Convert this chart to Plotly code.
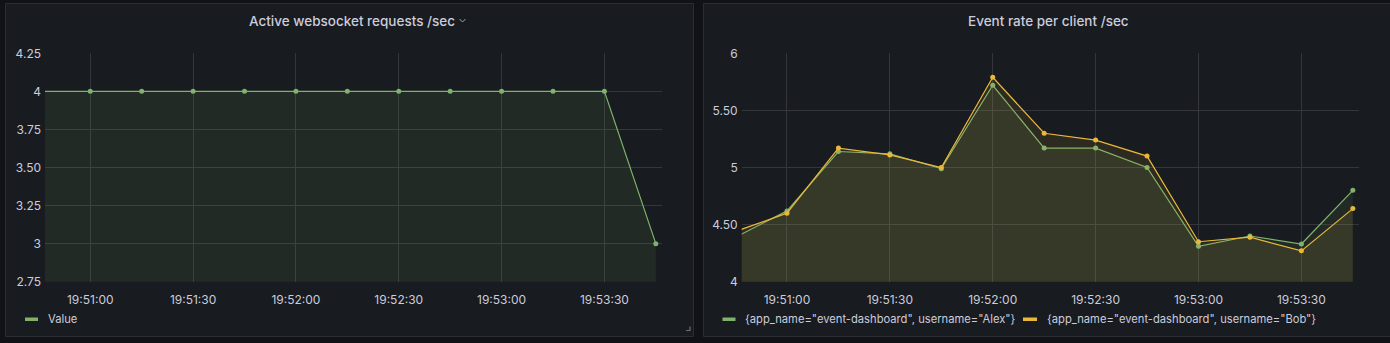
import plotly.graph_objects as go

W, H = 1390, 343

# ---- data -------------------------------------------------------------
DAY = "2022-06-01 "
times = ["19:50:45", "19:51:00", "19:51:15", "19:51:30", "19:51:45", "19:52:00",
         "19:52:15", "19:52:30", "19:52:45", "19:53:00", "19:53:15", "19:53:30",
         "19:53:45"]

active_ws = [4, 4, 4, 4, 4, 4, 4, 4, 4, 4, 4, 4, 3]

alex_rate = [4.39, 4.62, 5.14, 5.12, 4.99, 5.72, 5.17, 5.17, 5.00, 4.31, 4.40, 4.33, 4.80]
bob_rate = [4.44, 4.60, 5.17, 5.11, 5.00, 5.79, 5.30, 5.24, 5.10, 4.35, 4.39, 4.27, 4.64]

left_yticks = [2.75, 3, 3.25, 3.5, 3.75, 4, 4.25]
left_yticklabels = ["2.75", "3", "3.25", "3.50", "3.75", "4", "4.25"]
right_yticks = [4, 4.5, 5, 5.5, 6]
right_yticklabels = ["4", "4.50", "5", "5.50", "6"]

time_window = ["19:50:46.8", "19:53:46.8"]

left_title = "Active websocket requests /sec"
right_title = "Event rate per client /sec"
left_series = "Value"
alex_series = '{app_name="event-dashboard", username="Alex"}'
bob_series = '{app_name="event-dashboard", username="Bob"}'

# ---- style ------------------------------------------------------------
CANVAS = "#111217"
PANEL = "#181b1f"
BORDER = "#2a2d33"
GRID = "#34363c"
TEXT = "#ccccdc"
GREEN = "#7EB26D"
YELLOW = "#EAB839"
FONT = "Inter"


def fx(px):
    return px / W


def fy(py):
    return 1 - py / H


x = [DAY + t for t in times]
xr = [DAY + t for t in time_window]

fig = go.Figure()

fig.add_trace(go.Scatter(
    x=x, y=active_ws, mode="lines+markers", xaxis="x", yaxis="y",
    line=dict(color=GREEN, width=1.2), marker=dict(size=5, color=GREEN),
    fill="tozeroy", fillcolor="rgba(126,178,109,0.10)", name=left_series,
    showlegend=False, hoverinfo="skip",
))
fig.add_trace(go.Scatter(
    x=x, y=alex_rate, mode="lines+markers", xaxis="x2", yaxis="y2",
    line=dict(color=GREEN, width=1.2), marker=dict(size=5, color=GREEN),
    fill="tozeroy", fillcolor="rgba(126,178,109,0.10)", name=alex_series,
    showlegend=False, hoverinfo="skip",
))
fig.add_trace(go.Scatter(
    x=x, y=bob_rate, mode="lines+markers", xaxis="x2", yaxis="y2",
    line=dict(color=YELLOW, width=1.2), marker=dict(size=5, color=YELLOW),
    fill="tozeroy", fillcolor="rgba(234,184,57,0.10)", name=bob_series,
    showlegend=False, hoverinfo="skip",
))

ydom = [fy(281.7), fy(53.3)]
xaxis_common = dict(
    type="date", range=xr, tickformat="%H:%M:%S", dtick=30000,
    tick0=DAY + "19:51:00", showgrid=True, gridcolor=GRID, gridwidth=1,
    zeroline=False, showline=False, ticks="", automargin=False,
    ticklabelstandoff=9,
    tickfont=dict(family=FONT, size=12, color=TEXT), fixedrange=True,
)
yaxis_common = dict(
    showgrid=True, gridcolor=GRID, gridwidth=1, zeroline=False,
    showline=False, ticks="", automargin=False, ticklabelstandoff=3,
    tickfont=dict(family=FONT, size=12, color=TEXT),
    fixedrange=True,
)

fig.update_layout(
    width=W, height=H, autosize=False,
    margin=dict(l=0, r=0, t=0, b=0, pad=0),
    paper_bgcolor=CANVAS, plot_bgcolor="rgba(0,0,0,0)",
    showlegend=False,
    xaxis=dict(domain=[fx(45), fx(662)], anchor="y", **xaxis_common),
    yaxis=dict(domain=ydom, anchor="x", range=[2.75, 4.25],
               tickvals=left_yticks, ticktext=left_yticklabels, **yaxis_common),
    xaxis2=dict(domain=[fx(741.7), fx(1359)], anchor="y2", **xaxis_common),
    yaxis2=dict(domain=ydom, anchor="x2", range=[4, 6],
                tickvals=right_yticks, ticktext=right_yticklabels, **yaxis_common),
)

shapes = []
# panel backgrounds
for x0, x1 in [(5.5, 693.5), (703.5, 1395)]:
    shapes.append(dict(type="rect", xref="paper", yref="paper", layer="below",
                       x0=fx(x0), x1=fx(x1), y0=fy(336.5), y1=fy(3.5),
                       fillcolor=PANEL, line=dict(color=BORDER, width=1)))
# title menu chevron
shapes.append(dict(type="path", xref="paper", yref="paper",
                   path=f"M {fx(459.5)} {fy(19)} L {fx(462.5)} {fy(22)} L {fx(465.5)} {fy(19)}",
                   line=dict(color="#a0a3ad", width=1)))
# resize handle
shapes.append(dict(type="path", xref="paper", yref="paper",
                   path=f"M {fx(690)} {fy(326.5)} L {fx(690)} {fy(330.5)} L {fx(686)} {fy(330.5)}",
                   line=dict(color="#6e7079", width=1.2)))
# legend swatches
for x0, x1, c in [(25, 38, GREEN), (722.5, 735.5, GREEN), (1023, 1037, YELLOW)]:
    shapes.append(dict(type="rect", xref="paper", yref="paper",
                       x0=fx(x0), x1=fx(x1), y0=fy(321), y1=fy(317.5),
                       fillcolor=c, line=dict(width=0)))
fig.update_layout(shapes=shapes)

annotations = [
    dict(text=left_title, x=fx(351.5), y=fy(20.5), xanchor="center", yanchor="middle",
         font=dict(family=FONT, size=13.5, color=TEXT, weight=500)),
    dict(text=right_title, x=fx(1048), y=fy(20.5), xanchor="center", yanchor="middle",
         font=dict(family=FONT, size=13.5, color=TEXT, weight=500)),
    dict(text=left_series, x=fx(46), y=fy(319), xanchor="left", yanchor="middle",
         font=dict(family=FONT, size=11.2, color=TEXT)),
    dict(text=alex_series, x=fx(743), y=fy(319), xanchor="left", yanchor="middle",
         font=dict(family=FONT, size=11.2, color=TEXT)),
    dict(text=bob_series, x=fx(1045), y=fy(319), xanchor="left", yanchor="middle",
         font=dict(family=FONT, size=11.2, color=TEXT)),
]
for a in annotations:
    a.update(xref="paper", yref="paper", showarrow=False)
fig.update_layout(annotations=annotations)

fig.write_html("out.html", config={"displayModeBar": False})
